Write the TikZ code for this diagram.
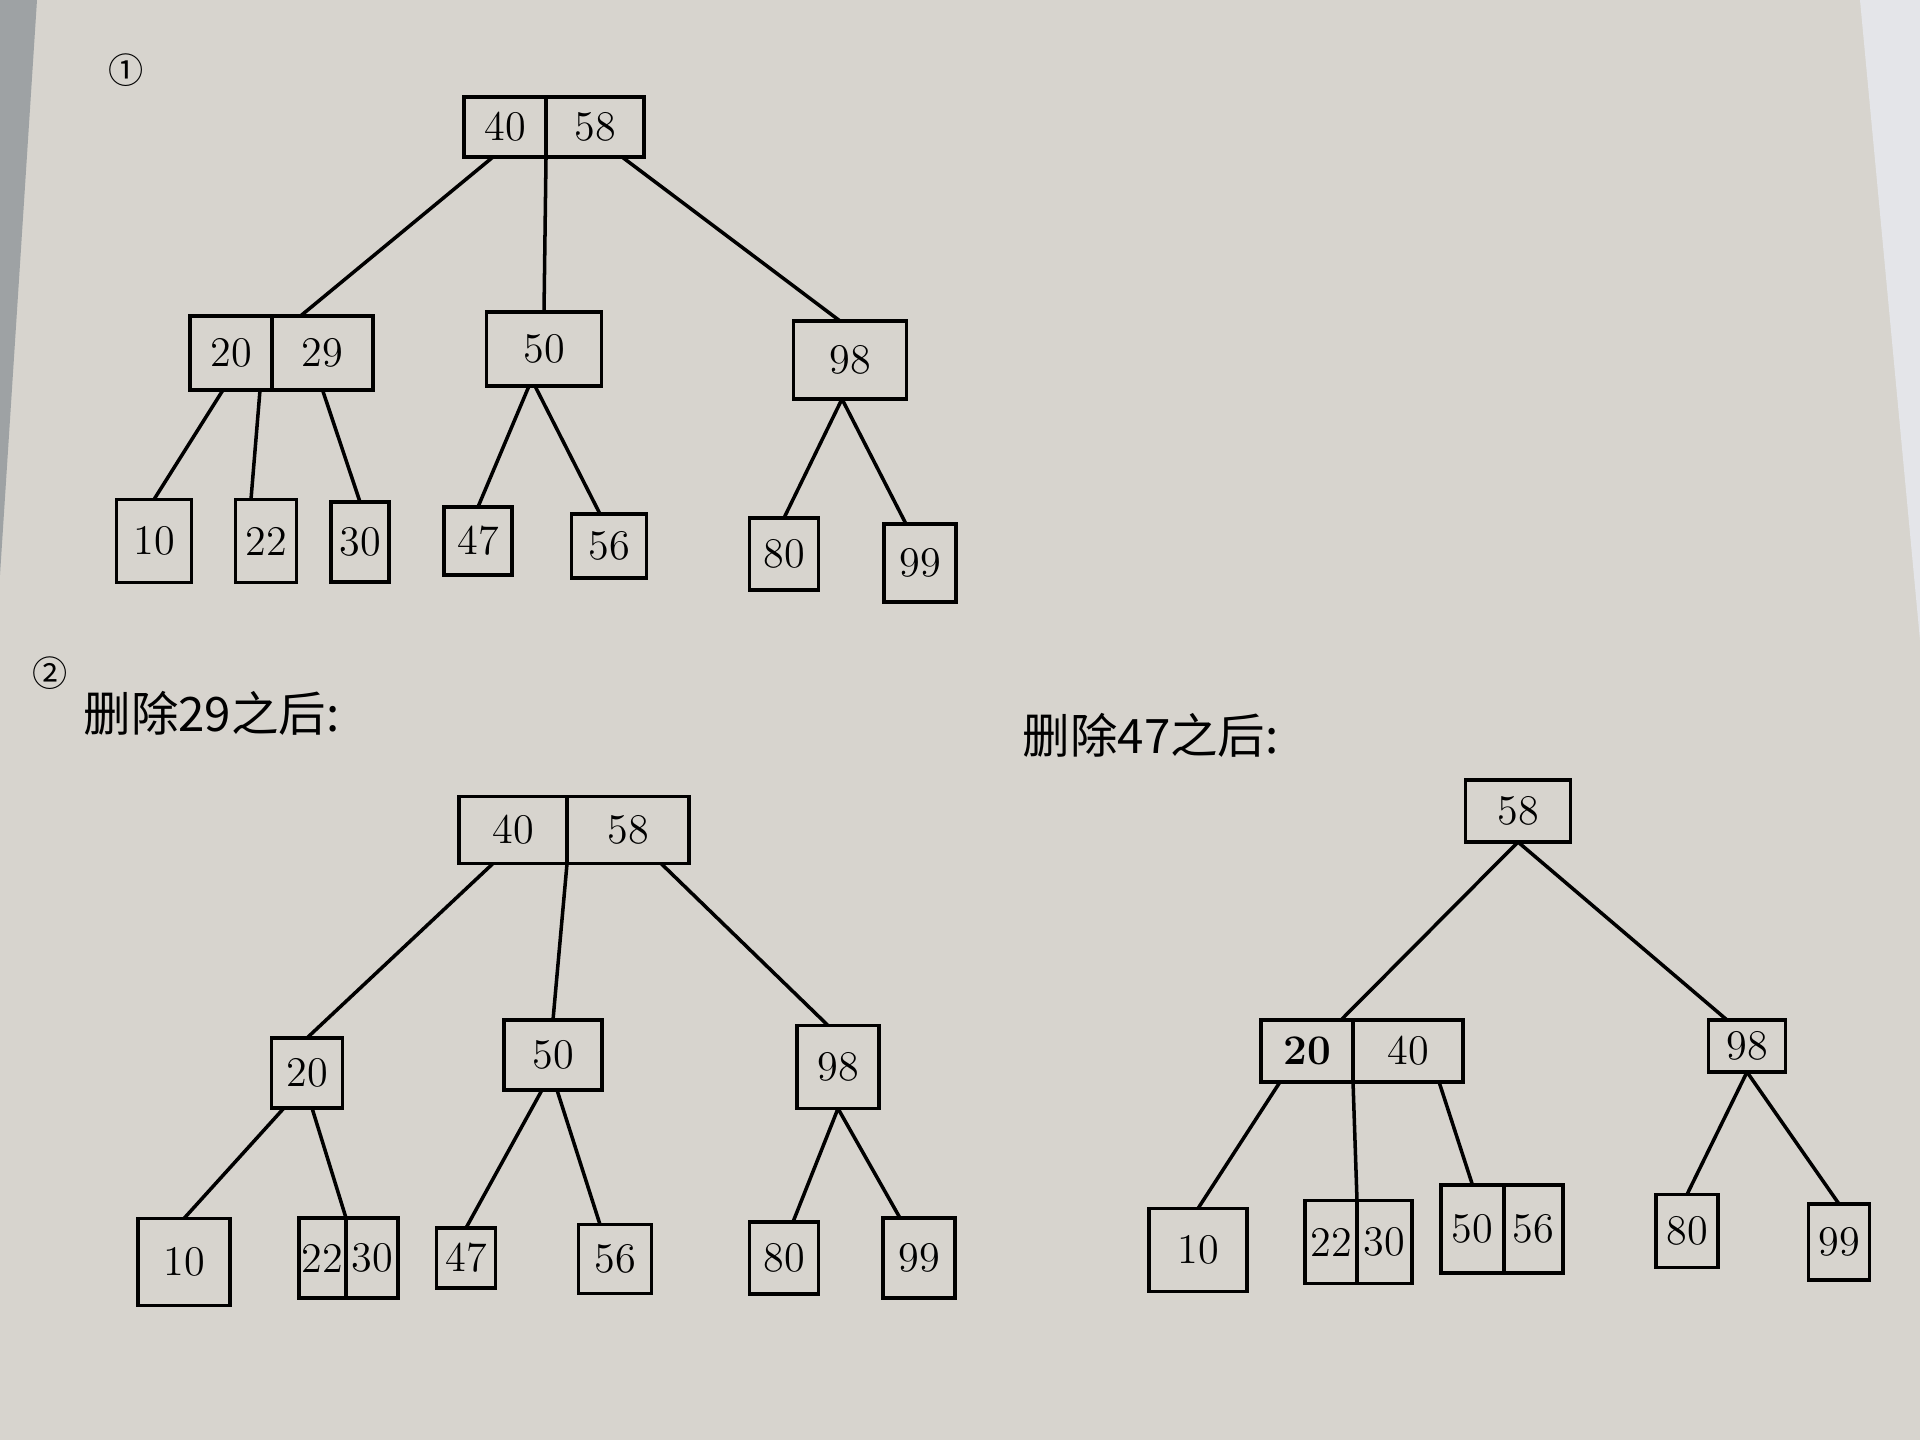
\documentclass[tikz,border=0pt]{standalone}
\usepackage{fontspec}
\newfontfamily\cjk{Noto Sans CJK SC}
\usetikzlibrary{positioning}
\definecolor{paper}{HTML}{D7D4CE}
\definecolor{desk}{HTML}{9EA2A4}
\definecolor{sheet}{HTML}{E4E5E9}
\begin{document}
\begin{tikzpicture}[x=0.01cm,y=-0.01cm,font=\fontsize{12}{14}\selectfont,
 key/.style={draw,line width=1.1pt,outer sep=0pt,inner sep=0pt},
 edge/.style={line width=1pt},
 note/.style={anchor=west,inner sep=0pt,font=\cjk\fontsize{13.5}{15}\selectfont},
 numlabel/.style={inner sep=0pt,font=\cjk\fontsize{10}{11}\selectfont}]
% paper and surroundings
\fill[paper] (0,0) rectangle (1920,1440);
\fill[desk] (0,0) -- (37,0) -- (0,575) -- cycle;
\fill[sheet] (1860,0) -- (1920,0) -- (1920,640) -- cycle;
\useasboundingbox (0,0) rectangle (1920,1440);

% (1) original tree
\node[numlabel] (one) at (126,70) {①};
\node[key,minimum width=0.82cm,minimum height=0.6cm] (A40) at (505,127) {40};
\node[key,minimum width=0.98cm,minimum height=0.6cm,right=0pt of A40] (A58) {58};
\node[key,minimum width=0.82cm,minimum height=0.74cm] (A20) at (231,353) {20};
\node[key,minimum width=1.01cm,minimum height=0.74cm,right=0pt of A20] (A29) {29};
\node[key,minimum width=1.15cm,minimum height=0.74cm] (A50) at (544,349) {50};
\node[key,minimum width=1.13cm,minimum height=0.78cm] (A98) at (850,360) {98};
\node[key,minimum width=0.75cm,minimum height=0.83cm] (A10) at (154,541) {10};
\node[key,minimum width=0.61cm,minimum height=0.83cm] (A22) at (266,541) {22};
\node[key,minimum width=0.58cm,minimum height=0.8cm] (A30) at (360,542) {30};
\node[key,minimum width=0.68cm,minimum height=0.68cm] (A47) at (478,541) {47};
\node[key,minimum width=0.75cm,minimum height=0.64cm] (A56) at (609,546) {56};
\node[key,minimum width=0.69cm,minimum height=0.72cm] (A80) at (784,554) {80};
\node[key,minimum width=0.72cm,minimum height=0.78cm] (A99) at (920,563) {99};
\draw[edge] ([xshift=-0.12cm]A40.south) -- ([xshift=-0.22cm]A29.north);
\draw[edge] (A40.south east) -- (A50.north);
\draw[edge] ([xshift=0.27cm]A58.south) -- ([xshift=-0.1cm]A98.north);
\draw[edge] ([xshift=-0.08cm]A20.south) -- (A10.north);
\draw[edge] ([xshift=-0.12cm]A20.south east) -- ([xshift=-0.15cm]A22.north);
\draw[edge] (A29.south) -- (A30.north);
\draw[edge] ([xshift=-0.15cm]A50.south) -- (A47.north);
\draw[edge] ([xshift=-0.09cm]A50.south) -- ([xshift=-0.09cm]A56.north);
\draw[edge] ([xshift=-0.08cm]A98.south) -- (A80.north);
\draw[edge] ([xshift=-0.08cm]A98.south) -- ([xshift=-0.14cm]A99.north);

% (2) after deleting 29
\node[numlabel] (two) at (50,673) {②};
\node[note] (del29) at (83,713) {删除29之后:};
\node[key,minimum width=1.08cm,minimum height=0.67cm] (B40) at (513,830) {40};
\node[key,minimum width=1.22cm,minimum height=0.67cm,right=0pt of B40] (B58) {58};
\node[key,minimum width=0.71cm,minimum height=0.7cm] (B20) at (307,1073) {20};
\node[key,minimum width=0.98cm,minimum height=0.7cm] (B50) at (553,1055) {50};
\node[key,minimum width=0.82cm,minimum height=0.83cm] (B98) at (838,1067) {98};
\node[key,minimum width=0.92cm,minimum height=0.87cm] (B10) at (184,1262) {10};
\node[key,minimum width=0.47cm,minimum height=0.8cm] (B22) at (322.5,1258) {22};
\node[key,minimum width=0.52cm,minimum height=0.8cm,right=0pt of B22] (B30) {30};
\node[key,minimum width=0.59cm,minimum height=0.6cm] (B47) at (466,1258) {47};
\node[key,minimum width=0.73cm,minimum height=0.69cm] (B56) at (615,1259) {56};
\node[key,minimum width=0.69cm,minimum height=0.72cm] (B80) at (784,1258) {80};
\node[key,minimum width=0.72cm,minimum height=0.8cm] (B99) at (919,1258) {99};
\draw[edge] ([xshift=-0.2cm]B40.south) -- (B20.north);
\draw[edge] (B40.south east) -- (B50.north);
\draw[edge] ([xshift=0.33cm]B58.south) -- ([xshift=-0.1cm]B98.north);
\draw[edge] ([xshift=-0.23cm]B20.south) -- (B10.north);
\draw[edge] ([xshift=0.05cm]B20.south) -- (B22.north east);
\draw[edge] ([xshift=-0.11cm]B50.south) -- (B47.north);
\draw[edge] ([xshift=0.04cm]B50.south) -- ([xshift=-0.15cm]B56.north);
\draw[edge] (B98.south) -- ([xshift=0.09cm]B80.north);
\draw[edge] (B98.south) -- ([xshift=-0.19cm]B99.north);

% after deleting 47
\node[note] (del47) at (1022,735) {删除47之后:};
\node[key,minimum width=1.05cm,minimum height=0.62cm] (C58) at (1518,811) {58};
\node[key,minimum width=0.92cm,minimum height=0.62cm] (C20) at (1307,1051) {\textbf{20}};
\node[key,minimum width=1.1cm,minimum height=0.62cm,right=0pt of C20] (C40) {40};
\node[key,minimum width=0.77cm,minimum height=0.52cm] (C98) at (1747,1046) {98};
\node[key,minimum width=0.98cm,minimum height=0.83cm] (C10) at (1198,1250) {10};
\node[key,minimum width=0.52cm,minimum height=0.83cm] (C22) at (1331,1242) {22};
\node[key,minimum width=0.55cm,minimum height=0.83cm,right=0pt of C22] (C30) {30};
\node[key,minimum width=0.63cm,minimum height=0.88cm] (C50) at (1472.5,1229) {50};
\node[key,minimum width=0.59cm,minimum height=0.88cm,right=0pt of C50] (C56) {56};
\node[key,minimum width=0.62cm,minimum height=0.73cm] (C80) at (1687,1231) {80};
\node[key,minimum width=0.61cm,minimum height=0.76cm] (C99) at (1839,1242) {99};
\draw[edge] (C58.south) -- ([xshift=-0.12cm]C20.north east);
\draw[edge] (C58.south) -- ([xshift=-0.2cm]C98.north);
\draw[edge] ([xshift=-0.27cm]C20.south) -- (C10.north);
\draw[edge] (C20.south east) -- (C22.north east);
\draw[edge] ([xshift=0.31cm]C40.south) -- (C50.north);
\draw[edge] (C98.south) -- (C80.north);
\draw[edge] (C98.south) -- (C99.north);
\end{tikzpicture}
\end{document}
